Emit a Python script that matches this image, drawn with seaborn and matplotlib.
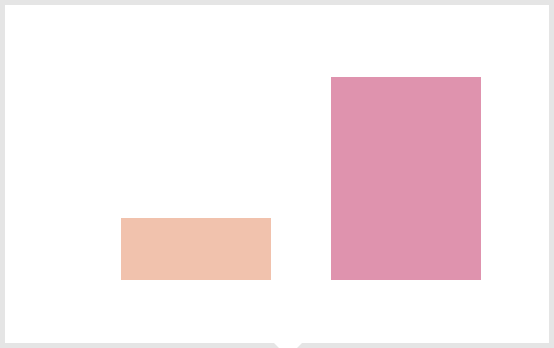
import matplotlib
matplotlib.use("Agg")
import matplotlib.pyplot as plt
import matplotlib.patches as mpatches
import seaborn as sns
import pandas as pd

# Two-bar comparison
categories = ["A", "B"]
values = [30, 98]
colors = ["#F1C2AD", "#DF93AE"]

W, H = 554, 348
fig = plt.figure(figsize=(W / 100, H / 100), dpi=100)
fig.patch.set_facecolor("#E5E5E5")

# White card with a light border and a small pointer at the bottom
card = mpatches.Rectangle((5 / W, 5 / H), (W - 10) / W, (H - 10) / H,
                          transform=fig.transFigure, facecolor="white",
                          edgecolor="none", zorder=-2)
fig.patches.append(card)
pointer = mpatches.Polygon([(273 / W, 6 / H), (303 / W, 6 / H), (288 / W, -9 / H)],
                           closed=True, transform=fig.transFigure,
                           facecolor="white", edgecolor="none", zorder=-2)
fig.patches.append(pointer)

ax = fig.add_axes([121 / W, 68 / H, (481 - 121) / W, 203 / H])
ax.set_facecolor("none")

df = pd.DataFrame({"category": categories, "value": values})
sns.barplot(data=df, x="category", y="value", hue="category",
            palette=colors, width=150 / 210, legend=False, ax=ax,
            saturation=1)

half = 150 / 210 / 2
ax.set_xlim(-half, 1 + half)
ax.set_ylim(0, max(values))
ax.set_axis_off()

fig.savefig("out.png", dpi=100, facecolor=fig.get_facecolor())
